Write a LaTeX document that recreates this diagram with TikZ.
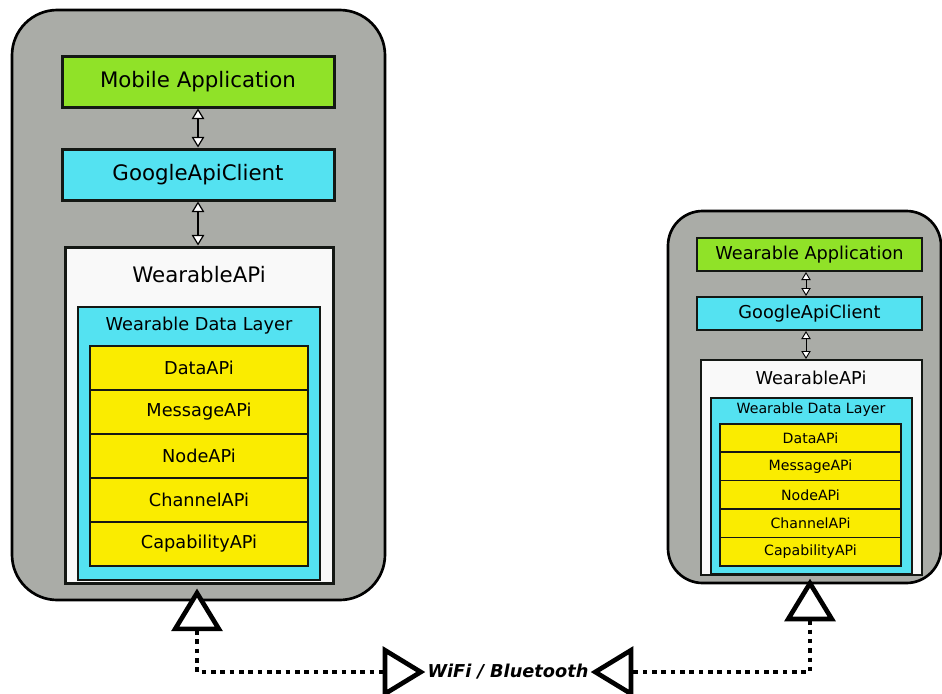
\documentclass[tikz,border=0pt]{standalone}
\usepackage{fontspec}
\setmainfont{DejaVu Sans}
\usetikzlibrary{arrows.meta,positioning}
\definecolor{WDgray}{RGB}{170,172,167}
\definecolor{WDgreen}{RGB}{144,226,40}
\definecolor{WDcyan}{RGB}{84,226,241}
\definecolor{WDyellow}{RGB}{250,236,0}
\definecolor{WDwhite}{RGB}{249,249,249}
\definecolor{WDline}{RGB}{20,24,20}
\tikzset{
  big/.style={font=\fontsize{16}{19}\selectfont},
  mid/.style={font=\fontsize{13.3}{16}\selectfont},
  small/.style={font=\fontsize{10.6}{13}\selectfont},
  device/.style={draw=black,line width=2pt,fill=WDgray},
  box/.style={draw=WDline,inner sep=0pt,text=black},
  app/.style={box,fill=WDgreen},
  client/.style={box,fill=WDcyan},
  wapi/.style={box,fill=WDwhite},
  layer/.style={box,fill=WDcyan},
  api/.style={box,fill=WDyellow},
  lbar/.style={big,line width=2.25pt,minimum width=204pt,minimum height=38.25pt},
  rbar/.style={mid,line width=1.5pt,minimum width=168.75pt,minimum height=24.75pt},
  lrow/.style={mid,line width=1.5pt,minimum width=163.5pt,minimum height=33pt},
  rrow/.style={small,line width=1.1pt,minimum width=135.75pt,minimum height=21.3pt},
  sm/.style={{Triangle[fill=white,length=8pt,width=9.5pt]}-{Triangle[fill=white,length=8pt,width=9.5pt]},line width=0.9pt},
  smr/.style={{Triangle[fill=white,length=6pt,width=7pt]}-{Triangle[fill=white,length=6pt,width=7pt]},line width=0.7pt},
  link/.style={{Triangle[fill=white,length=32pt,width=38pt,line width=3.5pt]}-{Triangle[fill=white,length=32pt,width=38pt,line width=3.5pt]},
               line width=3pt,dash pattern=on 3.4pt off 3.6pt},
}
\begin{document}
\begin{tikzpicture}[x=0.75pt,y=-0.75pt]
  \useasboundingbox (0,0) rectangle (942,693);
  % phone
  \node[device,minimum width=279.75pt,minimum height=442.5pt,rounded corners=34pt] (ldev) at (198.5,305) {};
  \node[app,lbar] (lapp) at (198,81.5) {Mobile Application};
  \node[client,lbar] (lgac) at (198,174.5) {GoogleApiClient};
  \node[wapi,line width=2.25pt,minimum width=201pt,minimum height=252pt] (lapi) at (199,415) {};
  \node[big] (lapit) at (199,275) {WearableAPi};
  \node[layer,line width=1.5pt,minimum width=181.5pt,minimum height=204.75pt] (ldl) at (199,443.5) {};
  \node[mid] (ldlt) at (199,326) {Wearable Data Layer};
  \node[api,lrow] (ldata) at (199,368) {DataAPi};
  \node[api,lrow] (lmsg) at (199,412) {MessageAPi};
  \node[api,lrow] (lnode) at (199,456) {NodeAPi};
  \node[api,lrow] (lchan) at (199,500) {ChannelAPi};
  \node[api,lrow] (lcap) at (199,544) {CapabilityAPi};
  \draw[sm] (lapp.south) -- (lgac.north);
  \draw[sm] (lgac.south) -- (lgac.south |- lapi.north);
  % watch
  \node[device,minimum width=204.75pt,minimum height=279pt,rounded corners=26pt] (rdev) at (804.5,397) {};
  \node[app,rbar] (rapp) at (809.5,254.5) {Wearable Application};
  \node[client,rbar] (rgac) at (809.5,313.5) {GoogleApiClient};
  \node[wapi,line width=1.5pt,minimum width=165.75pt,minimum height=161.25pt] (rapi) at (811.5,467.5) {};
  \node[mid] (rapit) at (811,378) {WearableAPi};
  \node[layer,line width=1.1pt,minimum width=150.75pt,minimum height=132pt] (rdl) at (811.5,486) {};
  \node[small] (rdlt) at (811,410) {Wearable Data Layer};
  \node[api,rrow] (rdata) at (810.5,438) {DataAPi};
  \node[api,rrow] (rmsg) at (810.5,466.4) {MessageAPi};
  \node[api,rrow] (rnode) at (810.5,494.8) {NodeAPi};
  \node[api,rrow] (rchan) at (810.5,523.2) {ChannelAPi};
  \node[api,rrow] (rcap) at (810.5,551.6) {CapabilityAPi};
  \draw[smr] (rapp.south -| 806,0) -- (rgac.north -| 806,0);
  \draw[smr] (rgac.south -| 806,0) -- (rapi.north -| 806,0);
  % link
  \node[mid,font=\fontsize{13.3}{16}\selectfont\bfseries\itshape,inner xsep=1.5pt] (wifi) at (508,672) {WiFi / Bluetooth};
  \draw[link,shorten <=3pt] (lapi.south -| 197,0) |- (wifi.west);
  \draw[link,shorten <=2pt] (rapi.south -| 810,0) |- (wifi.east);
\end{tikzpicture}
\end{document}
